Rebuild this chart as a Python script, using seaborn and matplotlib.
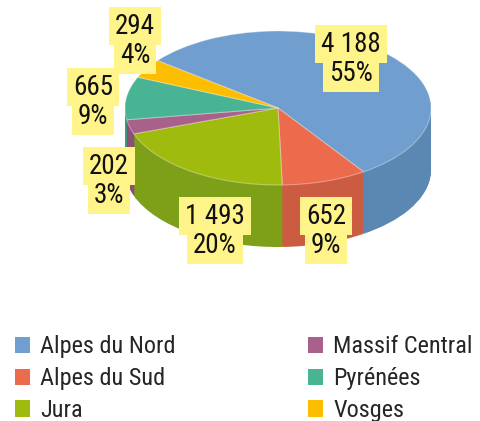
import matplotlib
matplotlib.use("Agg")
import matplotlib.pyplot as plt
from matplotlib.patches import Patch
import seaborn as sns

# Massifs, their figures and their shares (%)
massifs = ["Alpes du Nord", "Alpes du Sud", "Jura", "Massif Central", "Pyrénées", "Vosges"]
values = [4188, 652, 1493, 202, 665, 294]
shares = [55, 9, 20, 3, 9, 4]

top_colors = ["#6F9ECF", "#EC6B4C", "#9FBB0E", "#A8618A", "#49B493", "#FDBD00"]
side_colors = ["#5B87B3", "#CC5C41", "#7DA018", "#8C4F76", "#3A9A7B", "#D9A200"]

def fmt_thousands(v):
    return f"{v:,}".replace(",", " ")

value_labels = [fmt_thousands(v) for v in values]
pct_labels = [f"{s}%" for s in shares]

sns.set_theme(style="white")
plt.rcParams["font.family"] = ["Roboto Condensed", "DejaVu Sans"]

W, H, DPI = 481, 421, 100
fig = plt.figure(figsize=(W / DPI, H / DPI), dpi=DPI)
ax = fig.add_axes([0, 0, 1, 1])

# pixel geometry of the pie
cx, cy = 278, 108      # centre of top face
rx, ry = 153, 77       # radii of top ellipse
depth = 62             # thickness in pixels

def to_data(px, py):
    return (px - cx) / rx, (cy - py) / ry

start = 142
# extruded side: a stack of pies drawn from the bottom up
for i in range(depth, 0, -1):
    ax.pie(shares, colors=side_colors, startangle=start, counterclock=False,
           center=(0, -i / ry), radius=1,
           wedgeprops=dict(linewidth=0.0), frame=True)
# top face
ax.pie(shares, colors=top_colors, startangle=start, counterclock=False,
       center=(0, 0), radius=1,
       wedgeprops=dict(linewidth=0.8, edgecolor=(1, 1, 1, 0.35)), frame=True)

ax.set_aspect("auto")
ax.set_xlim((0 - cx) / rx, (W - cx) / rx)
ax.set_ylim((cy - H) / ry, cy / ry)
ax.axis("off")

# value / percent labels (centre of each line, in pixels)
label_px = [(351, 44), (326, 216), (215, 216), (109, 166), (93, 87), (135, 26)]
line_gap = 29
box = dict(boxstyle="square,pad=0.22", facecolor="#FFF48A", edgecolor="none")
for (px, py), v, p in zip(label_px, value_labels, pct_labels):
    for k, s in enumerate([v, p]):
        x, y = to_data(px, py + k * line_gap)
        ax.text(x, y, s, ha="center", va="center", fontsize=19.5,
                color="#111111", bbox=box, zorder=10)

handles = [Patch(facecolor=c, edgecolor="none", label=m) for m, c in zip(massifs, top_colors)]
fig.legend(handles=handles, loc="upper left", bbox_to_anchor=(0.005, 0.232),
           ncol=2, frameon=False, fontsize=17.5, handlelength=0.65, handleheight=0.65,
           handletextpad=0.4, columnspacing=5.43, labelspacing=0.36, borderpad=0)

fig.savefig("out.png", dpi=DPI)
